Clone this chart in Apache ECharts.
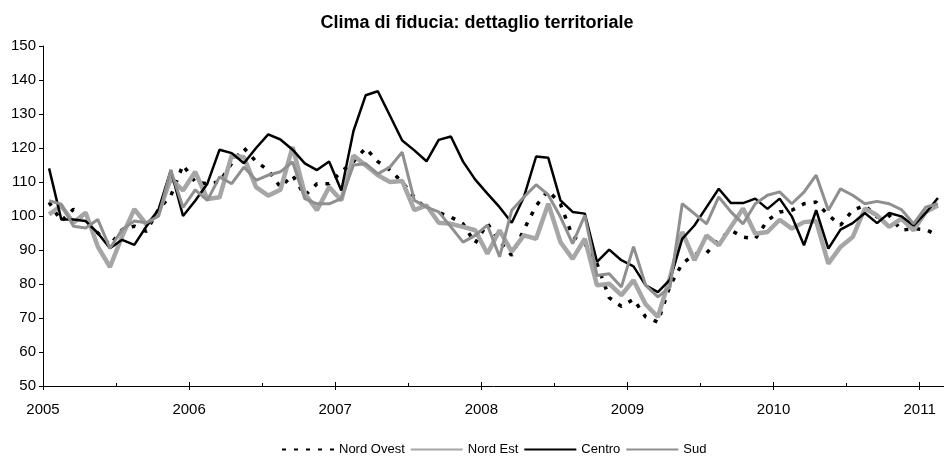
<!DOCTYPE html>
<html><head><meta charset="utf-8">
<script src="https://cdn.jsdelivr.net/npm/echarts@6/dist/echarts.min.js"></script>
<style>html,body{margin:0;padding:0;background:#fff}#c{width:944px;height:457px}</style>
</head><body><div id="c"></div>
<script>
const titleText = 'Clima di fiducia: dettaglio territoriale';
const yearLabels = ['2005','2006','2007','2008','2009','2010','2011'];
const seriesNames = ['Nord Ovest','Nord Est','Centro','Sud'];
// monthly values, Jan 2005 .. Feb 2011
const nordOvest = [
 104, 98.5, 102, 99, 95, 91.5, 96, 97, 95.5, 102, 106, 115,
 110, 109.5, 110, 115.5, 120, 116, 113.5, 108.5, 112, 106, 109.5, 109.5,
 113, 116, 120, 116, 113.5, 110, 105.5, 102, 101, 99.7, 97.7, 92,
 97.8, 92.5, 88.4, 96, 103, 107.5, 103.5, 94, 91.9, 86, 76, 73.4,
 75.5, 70.3, 68.8, 79.5, 86, 88.7, 89.1, 93, 95.8, 93.8, 93.3, 98.7,
 101.2, 101.7, 103.6, 104.1, 100.2, 97.3, 101.7, 103.1, 99.7, 100.2, 95.8, 96.3,
 96, 94.3
];
const nordEst = [
 100.5, 103, 98, 101, 91, 85, 94, 102, 97.5, 101, 111, 107.5,
 113, 105, 105.5, 117.8, 117.3, 108.5, 106, 107.7, 120.3, 106.6, 101.7, 108.5,
 104.6, 117.8, 114.9, 112, 110, 110.3, 101.7, 103.1, 98, 97.7, 96.8, 95.8,
 88.9, 95.8, 89.5, 94.3, 93.3, 103.6, 92.3, 87.4, 93.3, 79.6, 80.1, 76.7,
 81.1, 74, 70.3, 82, 95.3, 87, 94.3, 91.4, 96.8, 102.2, 94.8, 95.3,
 98.9, 96.3, 98.2, 98.5, 86, 90.9, 93.8, 102.2, 100.2, 96.8, 99.2, 95.8,
 101.2, 103.1
];
const centro = [
 114, 99, 99, 98.5, 95, 90.5, 93, 91.5, 97, 102, 113.5, 100,
 104.5, 109.5, 119.5, 118.5, 115.5, 120, 124, 122.5, 119.5, 115.5, 113.5, 116,
 107.5, 125, 135.5, 136.7, 129.5, 122.2, 119.3, 116.1, 122.4, 123.4, 116, 110.7,
 106.6, 102.6, 98, 105.6, 117.5, 117.1, 104.6, 101.2, 100.7, 86.5, 90.1, 87,
 85.2, 79.6, 77.6, 81.3, 93.3, 97.2, 102.6, 108, 103.8, 103.8, 105.1, 102.1,
 105.1, 99.9, 91.4, 101.7, 90.4, 96, 97.9, 100.9, 97.9, 100.9, 99.9, 97.2,
 100.9, 105.3
];
const sud = [
 104.5, 103.5, 97, 96.5, 99, 90.5, 96, 98.5, 98, 100, 113.5, 102.5,
 107.7, 104.6, 111.5, 109.5, 114.4, 110.5, 112, 113, 115.9, 105.1, 103.6, 103.6,
 105.1, 115, 115.4, 112.4, 114.4, 118.8, 104.6, 102.6, 101.2, 96.8, 92.3, 94.3,
 97.3, 88, 101.7, 105.6, 109.2, 106.2, 99.7, 91.9, 100.2, 82.5, 83, 79.1,
 91, 79.6, 76.2, 79.1, 103.6, 100.7, 97.7, 105.6, 101.2, 97.7, 103.6, 106.1,
 107.1, 103.6, 107, 112, 101.7, 108, 106.1, 103.6, 104.3, 103.6, 101.9, 97.7,
 102.6, 103.6
];

const nMonths = nordOvest.length;
const toPts = arr => arr.map((v, i) => [i + 0.5, v]);

const chart = echarts.init(document.getElementById('c'), null, {renderer: 'canvas'});
const font = '"Liberation Sans", Arial, sans-serif';
chart.setOption({
  animation: false,
  backgroundColor: '#fff',
  title: {
    text: titleText, left: 472, top: 9, textAlign: 'center',
    textStyle: {fontFamily: font, fontSize: 18, fontWeight: 'bold', color: '#000'}
  },
  legend: {
    data: seriesNames, left: 276, top: 438, itemWidth: 52, itemHeight: 8, itemGap: 5,
    itemStyle: {opacity: 0},
    textStyle: {fontFamily: font, fontSize: 13, color: '#000'}
  },
  grid: {left: 43, right: 0, top: 46, bottom: 71},
  xAxis: [{
    type: 'value', min: 0, max: nMonths, interval: 12,
    axisLine: {show: true, lineStyle: {color: '#000', width: 1}},
    axisTick: {show: true, inside: true, length: 4, lineStyle: {color: '#000'}},
    minorTick: {show: true, splitNumber: 2, length: 3, lineStyle: {color: '#000'}},
    splitLine: {show: false}, minorSplitLine: {show: false},
    axisLabel: {
      fontFamily: font, fontSize: 15, color: '#000', margin: 16, showMaxLabel: false,
      formatter: v => (v % 12 === 0 && yearLabels[v / 12]) ? yearLabels[v / 12] : ''
    }
  }, {
    type: 'value', min: 0, max: nMonths, interval: 12, position: 'bottom',
    axisLine: {show: false}, axisLabel: {show: false}, splitLine: {show: false},
    axisTick: {show: true, inside: false, length: 4, lineStyle: {color: '#000'}}
  }],
  yAxis: {
    type: 'value', min: 50, max: 150, interval: 10,
    axisLine: {show: true, lineStyle: {color: '#000', width: 1}},
    axisTick: {show: true, inside: false, length: 4, lineStyle: {color: '#000'}},
    splitLine: {show: false},
    axisLabel: {fontFamily: font, fontSize: 15, color: '#000', margin: 7}
  },
  series: [
    {name: seriesNames[0], type: 'line', data: toPts(nordOvest), symbol: 'none',
     lineStyle: {color: '#000', width: 3.5, type: [4, 8]}, itemStyle: {color: '#000'}},
    {name: seriesNames[1], type: 'line', data: toPts(nordEst), symbol: 'none',
     lineStyle: {color: '#a6a6a6', width: 4.5}, itemStyle: {color: '#a6a6a6'}},
    {name: seriesNames[2], type: 'line', data: toPts(centro), symbol: 'none',
     lineStyle: {color: '#000', width: 2.5}, itemStyle: {color: '#000'}},
    {name: seriesNames[3], type: 'line', data: toPts(sud), symbol: 'none',
     lineStyle: {color: '#8f8f8f', width: 3}, itemStyle: {color: '#8f8f8f'}}
  ]
});
</script>
</body></html>
